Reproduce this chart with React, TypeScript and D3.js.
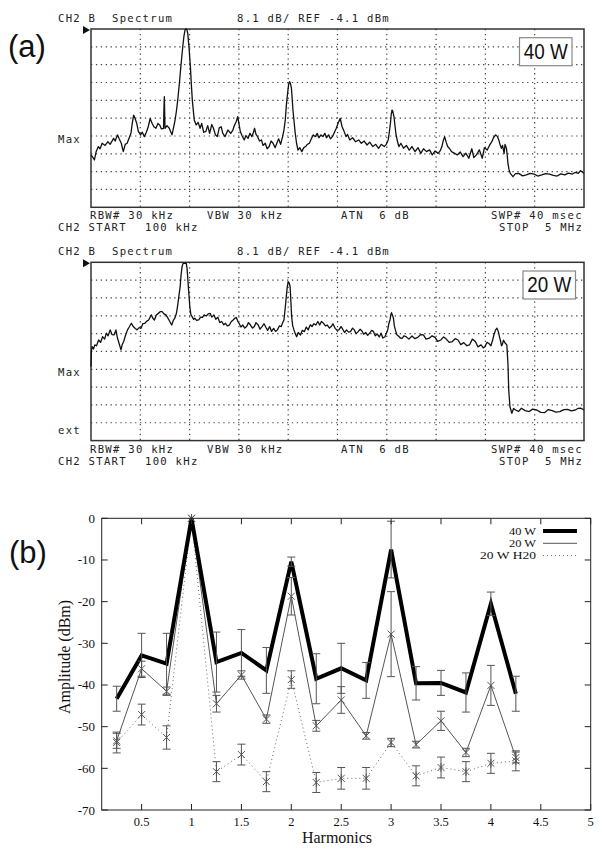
import React from 'react';
import * as d3 from 'd3';

// spectrum analyser traces, [frequency MHz, level dBm]
const trace40W: [number, number][] = [
  [0.10,-61.3],[0.12,-62.5],[0.134,-63.6],[0.15,-60.0],[0.173,-57.5],[0.19,-58.5],[0.211,-56.0],[0.24,-57.0],[0.268,-55.3],[0.29,-56.5],
  [0.325,-53.8],[0.34,-55.0],[0.363,-52.2],[0.38,-54.0],[0.401,-56.0],[0.421,-59.8],[0.44,-56.5],[0.459,-56.0],[0.48,-53.5],[0.497,-51.5],
  [0.51,-47.0],[0.524,-43.2],[0.54,-45.0],[0.554,-46.9],[0.57,-50.5],[0.592,-52.2],[0.61,-51.0],[0.63,-53.0],[0.65,-51.0],[0.669,-48.5],
  [0.688,-44.7],[0.707,-46.9],[0.725,-48.5],[0.745,-49.2],[0.765,-47.0],[0.783,-47.7],[0.80,-49.5],[0.821,-49.2],[0.825,-40.0],[0.829,-34.8],
  [0.833,-44.0],[0.836,-49.2],[0.855,-48.0],[0.878,-49.2],[0.89,-50.5],[0.905,-52.2],[0.92,-49.0],[0.936,-45.4],[0.95,-41.0],[0.962,-36.4],
  [0.978,-29.0],[0.993,-21.2],[1.008,-14.0],[1.023,-7.6],[1.035,-4.5],[1.043,-4.1],[1.052,-4.3],[1.062,-6.1],[1.075,-13.0],[1.088,-21.2],
  [1.097,-29.0],[1.107,-36.4],[1.126,-45.4],[1.146,-47.7],[1.165,-46.5],[1.184,-49.2],[1.20,-47.0],[1.22,-51.0],[1.241,-50.7],[1.26,-48.0],
  [1.279,-51.5],[1.30,-47.5],[1.317,-49.2],[1.335,-52.0],[1.355,-53.0],[1.375,-49.0],[1.394,-48.5],[1.41,-51.5],[1.432,-53.0],[1.46,-50.0],
  [1.489,-51.5],[1.51,-50.0],[1.527,-47.7],[1.545,-46.0],[1.558,-43.9],[1.57,-47.0],[1.584,-50.7],[1.60,-52.5],[1.623,-54.5],[1.64,-52.5],
  [1.661,-53.8],[1.68,-51.5],[1.699,-53.0],[1.715,-51.0],[1.726,-49.2],[1.74,-52.0],[1.756,-53.0],[1.775,-55.0],[1.794,-54.5],[1.81,-57.0],
  [1.832,-56.0],[1.85,-58.5],[1.871,-57.5],[1.89,-55.0],[1.909,-56.0],[1.93,-58.0],[1.947,-56.0],[1.965,-54.0],[1.985,-56.5],[2.004,-53.0],
  [2.018,-50.0],[2.031,-45.4],[2.043,-38.0],[2.054,-33.3],[2.065,-29.0],[2.073,-28.0],[2.082,-28.8],[2.092,-31.0],[2.10,-36.0],[2.107,-40.9],
  [2.118,-46.0],[2.13,-51.5],[2.143,-56.0],[2.157,-59.1],[2.175,-58.0],[2.195,-59.8],[2.215,-58.0],[2.233,-57.5],[2.25,-56.5],[2.271,-56.0],
  [2.29,-54.0],[2.309,-52.2],[2.33,-53.0],[2.348,-51.5],[2.365,-53.5],[2.386,-52.2],[2.405,-53.0],[2.424,-51.5],[2.44,-53.5],[2.462,-52.2],
  [2.48,-54.0],[2.50,-53.0],[2.52,-51.0],[2.538,-49.2],[2.555,-47.0],[2.577,-44.7],[2.596,-48.5],[2.615,-50.5],[2.634,-53.0],[2.65,-52.0],
  [2.672,-54.5],[2.70,-53.5],[2.729,-55.3],[2.76,-54.5],[2.787,-56.0],[2.815,-55.0],[2.844,-56.8],[2.87,-55.5],[2.901,-57.5],[2.93,-56.5],
  [2.958,-58.3],[2.985,-56.5],[3.015,-57.5],[3.035,-56.5],[3.054,-54.5],[3.065,-51.0],[3.076,-46.9],[3.085,-42.5],[3.092,-40.9],[3.10,-41.5],
  [3.111,-43.9],[3.12,-47.5],[3.13,-51.5],[3.145,-55.0],[3.16,-57.5],[3.18,-56.0],[3.206,-58.3],[3.235,-57.0],[3.263,-59.1],[3.29,-57.5],
  [3.321,-59.8],[3.35,-58.0],[3.378,-60.6],[3.405,-58.5],[3.435,-59.8],[3.465,-59.0],[3.492,-61.3],[3.52,-59.5],[3.55,-60.6],[3.57,-59.5],
  [3.588,-57.5],[3.60,-55.0],[3.615,-53.0],[3.63,-55.5],[3.645,-57.5],[3.665,-58.5],[3.683,-59.8],[3.71,-60.5],[3.74,-61.3],[3.77,-60.0],
  [3.798,-62.1],[3.825,-60.5],[3.855,-62.8],[3.885,-58.5],[3.905,-62.5],[3.931,-61.3],[3.96,-59.0],[3.989,-62.8],[4.01,-58.0],[4.038,-59.1],
  [4.06,-57.0],[4.084,-55.3],[4.10,-53.5],[4.122,-52.2],[4.14,-53.0],[4.153,-54.5],[4.165,-56.5],[4.179,-58.3],[4.19,-57.0],[4.206,-60.6],
  [4.215,-56.5],[4.229,-58.3],[4.236,-61.0],[4.244,-65.1],[4.255,-68.0],[4.267,-69.7],[4.294,-71.2],[4.32,-69.8],[4.351,-69.7],[4.39,-70.8],
  [4.427,-70.4],[4.465,-69.7],[4.504,-70.0],[4.54,-70.9],[4.58,-70.4],[4.62,-69.8],[4.656,-70.0],[4.695,-70.6],[4.733,-70.9],[4.77,-69.9],
  [4.809,-70.4],[4.845,-69.6],[4.885,-70.0],[4.915,-69.2],[4.943,-69.7],[4.965,-68.5],[4.981,-68.9],[5.0,-69.7],
];

const trace20W: [number, number][] = [
  [0.100,-51.5],[0.104,-44.5],[0.111,-42.4],[0.125,-43.5],[0.138,-41.6],[0.155,-42.0],[0.176,-39.4],[0.195,-40.5],[0.215,-37.9],[0.235,-39.0],
  [0.253,-36.3],[0.27,-37.5],[0.291,-34.8],[0.31,-37.0],[0.329,-37.1],[0.348,-34.8],[0.36,-38.0],[0.375,-40.3],[0.398,-43.9],[0.41,-41.5],
  [0.425,-40.1],[0.445,-37.0],[0.463,-34.8],[0.48,-33.5],[0.501,-31.8],[0.52,-33.3],[0.54,-34.2],[0.558,-34.8],[0.578,-33.8],[0.597,-34.1],
  [0.615,-32.0],[0.635,-31.8],[0.655,-30.8],[0.673,-30.3],[0.688,-29.0],[0.70,-28.0],[0.715,-29.5],[0.73,-30.3],[0.75,-28.0],[0.769,-27.3],
  [0.79,-26.5],[0.807,-26.5],[0.825,-27.5],[0.845,-28.0],[0.865,-29.5],[0.883,-31.0],[0.902,-32.6],[0.918,-30.5],[0.933,-29.5],[0.948,-27.5],
  [0.96,-24.2],[0.972,-20.0],[0.986,-15.2],[0.995,-10.0],[1.005,-6.1],[1.015,-4.6],[1.024,-4.6],[1.047,-4.6],[1.055,-7.0],[1.063,-12.1],
  [1.072,-18.0],[1.082,-24.2],[1.093,-28.0],[1.105,-28.8],[1.12,-30.0],[1.131,-29.5],[1.15,-30.5],[1.17,-30.3],[1.19,-29.0],[1.208,-29.1],
  [1.225,-28.0],[1.246,-28.5],[1.265,-27.5],[1.284,-27.3],[1.30,-29.0],[1.322,-28.0],[1.34,-30.0],[1.361,-29.1],[1.38,-31.5],[1.399,-31.0],
  [1.42,-32.5],[1.437,-31.8],[1.455,-33.0],[1.475,-32.6],[1.495,-31.0],[1.513,-30.3],[1.53,-29.5],[1.544,-29.1],[1.56,-31.0],[1.571,-31.8],
  [1.59,-33.5],[1.609,-32.6],[1.628,-34.0],[1.647,-33.3],[1.665,-31.5],[1.685,-32.6],[1.705,-34.0],[1.724,-33.3],[1.74,-31.5],[1.762,-32.6],
  [1.78,-34.5],[1.80,-33.3],[1.82,-32.0],[1.838,-33.6],[1.855,-35.0],[1.876,-33.3],[1.895,-35.5],[1.915,-34.1],[1.935,-35.5],[1.953,-34.8],
  [1.972,-33.0],[1.991,-33.3],[2.005,-31.5],[2.018,-30.3],[2.03,-25.0],[2.041,-19.7],[2.05,-15.5],[2.06,-12.9],[2.07,-13.5],[2.079,-15.2],
  [2.087,-22.0],[2.094,-28.8],[2.105,-33.0],[2.117,-34.8],[2.13,-36.5],[2.144,-37.9],[2.16,-36.0],[2.182,-37.1],[2.20,-35.0],[2.22,-35.6],
  [2.24,-33.5],[2.258,-34.8],[2.28,-32.5],[2.297,-33.3],[2.315,-32.0],[2.335,-32.6],[2.355,-31.0],[2.373,-32.6],[2.39,-31.0],[2.411,-31.8],
  [2.43,-33.0],[2.449,-32.6],[2.47,-34.0],[2.488,-33.3],[2.505,-32.0],[2.526,-34.1],[2.545,-35.0],[2.564,-34.8],[2.585,-33.3],[2.602,-34.5],
  [2.62,-36.0],[2.64,-34.8],[2.66,-35.8],[2.679,-35.6],[2.70,-34.0],[2.717,-34.8],[2.735,-36.5],[2.755,-35.6],[2.775,-34.5],[2.793,-35.3],
  [2.81,-36.8],[2.831,-36.0],[2.85,-37.3],[2.87,-36.3],[2.89,-35.0],[2.908,-35.6],[2.925,-37.5],[2.946,-36.7],[2.965,-38.0],[2.984,-36.3],
  [3.00,-38.5],[3.022,-37.9],[3.035,-36.5],[3.049,-34.8],[3.06,-32.0],[3.072,-30.3],[3.08,-28.0],[3.087,-27.0],[3.095,-28.0],[3.106,-29.5],
  [3.115,-33.0],[3.125,-34.8],[3.14,-37.0],[3.156,-37.6],[3.175,-38.5],[3.194,-38.6],[3.21,-37.5],[3.232,-37.9],[3.26,-39.0],[3.29,-37.6],
  [3.32,-38.8],[3.347,-38.2],[3.375,-37.0],[3.404,-37.1],[3.43,-39.0],[3.462,-38.6],[3.49,-37.5],[3.519,-38.2],[3.545,-40.0],[3.576,-39.4],
  [3.605,-38.0],[3.634,-39.1],[3.66,-40.5],[3.691,-40.1],[3.72,-38.8],[3.748,-39.4],[3.775,-41.5],[3.805,-40.6],[3.835,-42.0],[3.863,-41.6],
  [3.89,-39.0],[3.92,-40.1],[3.945,-42.5],[3.977,-41.6],[4.00,-43.0],[4.016,-42.4],[4.035,-40.5],[4.054,-40.9],[4.075,-42.0],[4.092,-39.4],
  [4.105,-37.0],[4.122,-34.8],[4.135,-34.0],[4.149,-35.6],[4.16,-38.0],[4.168,-39.4],[4.18,-42.0],[4.187,-41.6],[4.20,-39.5],[4.218,-40.9],
  [4.233,-41.6],[4.244,-50.0],[4.252,-62.1],[4.264,-69.7],[4.283,-72.7],[4.30,-70.5],[4.321,-71.2],[4.35,-71.8],[4.378,-70.4],[4.415,-71.5],
  [4.455,-71.9],[4.49,-70.8],[4.531,-71.2],[4.57,-72.3],[4.608,-72.4],[4.645,-71.0],[4.684,-71.5],[4.72,-72.2],[4.76,-71.9],[4.80,-71.0],
  [4.837,-70.9],[4.875,-71.6],[4.913,-71.2],[4.94,-70.5],[4.97,-70.4],[5.0,-71.2],
];

// harmonic amplitudes (b)
const harmonics = [0.25, 0.5, 0.75, 1, 1.25, 1.5, 1.75, 2, 2.25, 2.5, 2.75, 3, 3.25, 3.5, 3.75, 4, 4.25];
const amp40W = [-43.3, -32.9, -34.9, 0, -34.5, -32.3, -36.5, -10.4, -38.5, -36.0, -38.9, -7.5, -39.6, -39.5, -41.8, -20.5, -42.1];
const err40W = [3.0, 5.3, 7.3, 0, 7.2, 5.6, 5.5, 1.1, 6.0, 6.0, 4.3, 6.8, 4.0, 3.0, 4.7, 2.8, 4.2];
const amp20W = [-53.4, -36.1, -41.5, 0, -44.5, -37.6, -48.2, -18.7, -49.8, -43.6, -52.2, -27.8, -54.3, -48.6, -56.2, -40.1, -57.4];
const err20W = [1.8, 1.8, 1.0, 0, 2.0, 1.0, 1.0, 4.5, 1.3, 3.2, 0.8, 10.2, 0.8, 2.3, 1.0, 4.8, 1.3];
const ampH20 = [-53.8, -47.1, -52.6, 0, -60.8, -56.7, -63.2, -38.7, -63.4, -62.4, -62.4, -53.8, -61.8, -59.8, -60.8, -58.8, -58.2];
const errH20 = [2.5, 2.5, 2.8, 0, 2.4, 2.5, 2.4, 2.1, 2.4, 2.6, 2.6, 1.0, 2.4, 2.5, 2.4, 2.4, 2.4];

const xTicksB = [0.5, 1, 1.5, 2, 2.5, 3, 3.5, 4, 4.5, 5];
const yTicksB = [0, -10, -20, -30, -40, -50, -60, -70];

const MONO = 'DejaVu Sans Mono';
const SERIF = 'Liberation Serif';
const SANS = 'Liberation Sans';

const Spectrum = ({ top, trace, label, ext }: { top: number; trace: [number, number][]; label: string; ext: boolean }) => {
  const left = 91, right = 584, bottom = top + 178.3;
  const x = d3.scaleLinear().domain([0.1, 5]).range([left, right]);
  const y = d3.scaleLinear().domain([-85.1, -4.1]).range([bottom, top]).clamp(true);
  const line = d3.line<[number, number]>().x(d => x(d[0])).y(d => y(d[1]));
  const divs = d3.range(1, 10);
  // analyser screen font: ~7.65px per character
  const t = { fontFamily: MONO, fontSize: 10.6, letterSpacing: 1.27, fill: '#222', whiteSpace: 'pre' } as React.CSSProperties;
  const boxX = label === '40 W' ? 519.5 : 523;
  return (
    <g>
      <text x={58} y={top - 7.3} style={t}>CH2 B</text>
      <text x={112} y={top - 7.3} style={t}>Spectrum</text>
      <text x={237} y={top - 7.3} style={t}>8.1 dB/ REF -4.1 dBm</text>
      <path d={`M${left - 8},${top - 3}L${left - 1},${top + 1}L${left - 8},${top + 5}Z`} fill="#111" />
      {divs.map(i => (
        <line key={'v' + i} x1={left + ((right - left) * i) / 10} x2={left + ((right - left) * i) / 10} y1={top} y2={bottom}
          stroke="#444" strokeWidth={1.2} strokeDasharray="1.3,3.6" />
      ))}
      {divs.map(i => (
        <line key={'h' + i} x1={left} x2={right} y1={top + ((bottom - top) * i) / 10} y2={top + ((bottom - top) * i) / 10}
          stroke="#444" strokeWidth={1.2} strokeDasharray="1.3,3.6" />
      ))}
      <rect x={left} y={top} width={right - left} height={bottom - top} fill="none" stroke="#333" strokeWidth={1.5} />
      <path d={line(trace) || ''} fill="none" stroke="#111" strokeWidth={1.3} strokeLinejoin="round" />
      <text x={58} y={top + 114} style={t}>Max</text>
      {ext && <text x={58} y={top + 171.5} style={t}>ext</text>}
      <rect x={boxX} y={top + 8.7} width={52.5} height={28} fill="#fff" stroke="#888" strokeWidth={1.2} />
      <text x={boxX + 26.2} y={top + 30} textAnchor="middle" fontFamily={SANS} fontSize={22}
        textLength={44} lengthAdjust="spacingAndGlyphs" fill="#111">{label}</text>
      <text x={90} y={bottom + 12} style={t}>RBW# 30 kHz</text>
      <text x={207} y={bottom + 12} style={t}>VBW 30 kHz</text>
      <text x={341} y={bottom + 12} style={t}>ATN  6 dB</text>
      <text x={491} y={bottom + 12} style={t}>SWP# 40 msec</text>
      <text x={58} y={bottom + 24} style={t}>CH2 START</text>
      <text x={145} y={bottom + 24} style={t}>100 kHz</text>
      <text x={499} y={bottom + 24} style={t}>STOP  5 MHz</text>
    </g>
  );
};

const Harmonics = () => {
  const left = 101.7, right = 590.7, top = 518.3, bottom = 810;
  const x = d3.scaleLinear().domain([0.1, 5]).range([left, right]);
  const y = d3.scaleLinear().domain([-70, 0]).range([bottom, top]);
  const line = d3.line<number>().x((_, i) => x(harmonics[i])).y(d => y(d));
  const series = [
    { amp: ampH20, err: errH20, stroke: '#666', width: 1, dash: '1,3', marker: 'star' },
    { amp: amp20W, err: err20W, stroke: '#555', width: 1, dash: undefined, marker: 'cross' },
    { amp: amp40W, err: err40W, stroke: '#000', width: 4, dash: undefined, marker: 'none' },
  ];
  const marker = (kind: string, cx: number, cy: number, key: string) => {
    if (kind === 'none') return null;
    const s = 3.5;
    let d = `M${cx - s},${cy - s}L${cx + s},${cy + s}M${cx - s},${cy + s}L${cx + s},${cy - s}`;
    if (kind === 'star') d += `M${cx},${cy - s - 0.8}L${cx},${cy + s + 0.8}`;
    return <path key={key} d={d} stroke="#555" strokeWidth={1} fill="none" />;
  };
  const tick = 6;
  return (
    <g>
      <text x={9} y={563} fontFamily={SANS} fontSize={31} fill="#111">(b)</text>
      {series.map((s, k) => (
        <path key={'l' + k} d={line(s.amp) || ''} fill="none" stroke={s.stroke} strokeWidth={s.width}
          strokeDasharray={s.dash} strokeLinejoin="miter" />
      ))}
      {series.map((s, k) =>
        s.amp.map((a, i) => {
          if (!s.err[i]) return null;
          const cx = x(harmonics[i]);
          const y1 = y(a + s.err[i]), y2 = y(a - s.err[i]);
          return (
            <path key={`e${k}-${i}`} d={`M${cx},${y1}L${cx},${y2}M${cx - 4},${y1}L${cx + 4},${y1}M${cx - 4},${y2}L${cx + 4},${y2}`}
              stroke="#555" strokeWidth={1} fill="none" />
          );
        })
      )}
      {series.map((s, k) => s.amp.map((a, i) => marker(s.marker, x(harmonics[i]), y(a), `m${k}-${i}`)))}
      <rect x={left} y={top} width={right - left} height={bottom - top} fill="none" stroke="#222" strokeWidth={1} />
      {xTicksB.map(v => (
        <g key={'xt' + v}>
          <line x1={x(v)} x2={x(v)} y1={bottom} y2={bottom - tick} stroke="#222" />
          <line x1={x(v)} x2={x(v)} y1={top} y2={top + tick} stroke="#222" />
          <text x={x(v)} y={825.5} textAnchor="middle" fontFamily={SERIF} fontSize={12.5} fill="#111">{String(v)}</text>
        </g>
      ))}
      {yTicksB.map(v => (
        <g key={'yt' + v}>
          <line x1={left} x2={left + tick} y1={y(v)} y2={y(v)} stroke="#222" />
          <line x1={right} x2={right - tick} y1={y(v)} y2={y(v)} stroke="#222" />
          <text x={95} y={y(v) + 4.5} textAnchor="end" fontFamily={SERIF} fontSize={13} fill="#111">{String(v)}</text>
        </g>
      ))}
      <text x={337} y={843} textAnchor="middle" fontFamily={SERIF} fontSize={16} fill="#111">Harmonics</text>
      <text transform="translate(70,657) rotate(-90)" textAnchor="middle" fontFamily={SERIF} fontSize={16} fill="#111">
        Amplitude (dBm)
      </text>
      {[
        { name: '40 W', stroke: '#000', width: 4, dash: undefined },
        { name: '20 W', stroke: '#555', width: 1, dash: undefined },
        { name: '20 W H20', stroke: '#666', width: 1, dash: '1,3' },
      ].map((l, i) => (
        <g key={l.name}>
          <text x={536} y={534.5 + i * 12.3} textAnchor="end" fontFamily={SERIF} fontSize={10.3} fill="#111"
            textLength={l.name.length > 4 ? 56 : 27} lengthAdjust="spacingAndGlyphs">{l.name}</text>
          <line x1={543} x2={577} y1={531 + i * 12.3} y2={531 + i * 12.3} stroke={l.stroke} strokeWidth={l.width} strokeDasharray={l.dash} />
        </g>
      ))}
    </g>
  );
};

export default function App() {
  return (
    <svg width={602} height={849} style={{ position: 'absolute', left: 0, top: 0, background: '#fff' }}>
      <rect width={602} height={849} fill="#fff" />
      <text x={8} y={56.5} fontFamily={SANS} fontSize={31} fill="#111">(a)</text>
      <Spectrum top={29} trace={trace40W} label="40 W" ext={false} />
      <Spectrum top={262.3} trace={trace20W} label="20 W" ext={true} />
      <Harmonics />
    </svg>
  );
}
